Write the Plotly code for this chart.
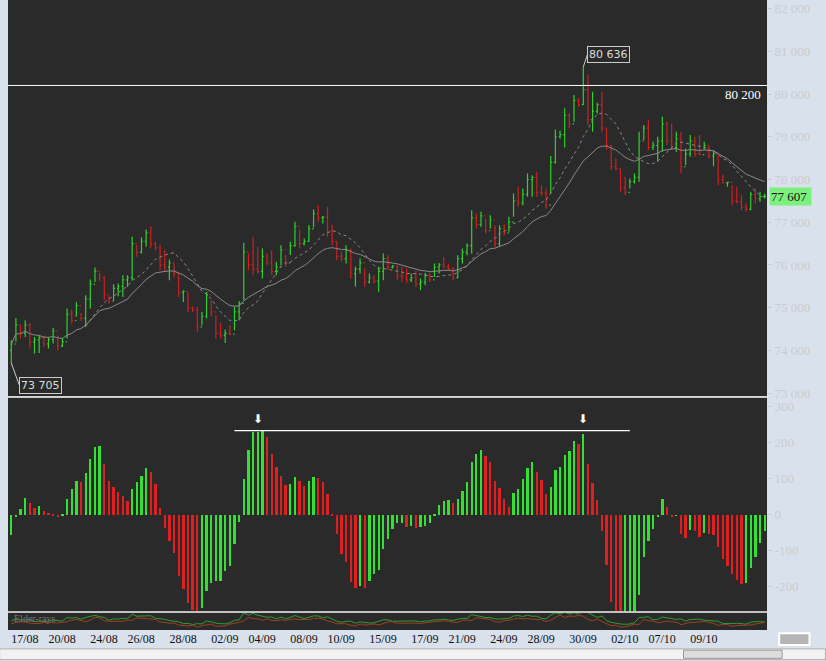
import plotly.graph_objects as go
import pandas as pd

# price bars (one bar per entry)
highs = [74237, 74760, 74590, 74706, 74643, 74315, 74355, 74340, 74315, 74526, 74347, 74290, 74980, 74956, 75135, 74878,
         75290, 75660, 75940, 75815, 75737, 75270, 75550, 75565, 75760, 75760, 76660, 76465, 76643, 76830, 76908, 76540,
         76465, 76345, 76130, 76033, 75800, 75410, 75347, 75033, 75020, 74900, 75370, 75175, 74823, 74643, 74490, 74590,
         75020, 75150, 76518, 76268, 76658, 76424, 76385, 76268, 76346, 76073, 76463, 76230, 76542, 77010, 76815, 76620,
         76932, 77300, 77400, 77143, 77362, 76932, 76542, 76307, 76463, 76385, 75955, 76151, 75917, 75800, 75760, 75955,
         76268, 76229, 75995, 75995, 75954, 75915, 75798, 75860, 75680, 75813, 75798, 76032, 76048, 76188, 76032, 75954,
         76227, 76383, 76500, 77281, 77203, 77242, 77086, 77164, 76930, 76930, 76953, 77125, 77672, 77828, 77789, 78141,
         78101, 78180, 77867, 77789, 78547, 79172, 79140, 79664, 79546, 79976, 79898, 80636, 80445, 80054, 79796, 80054,
         79195, 78805, 78492, 78258, 78062, 78023, 78141, 79117, 79273, 79390, 78883, 78999, 79468, 79351, 79312, 79117,
         79117, 78726, 79039, 79000, 79039, 78883, 78781, 78687, 78570, 78102, 77945, 77867, 77828, 77633, 77437, 77711,
         77789, 77711, 77672]
lows = [73705, 74200, 74280, 74315, 74043, 73925, 73940, 74080, 74043, 74160, 74000, 74080, 74280, 74630, 74785, 74690,
        74550, 74980, 75600, 75630, 75175, 75100, 75160, 75270, 75250, 75490, 75640, 76190, 76270, 76425, 76385, 76345,
        75880, 75840, 75640, 75705, 75250, 75135, 74900, 74900, 74430, 74590, 74745, 74785, 74280, 74280, 74175, 74355,
        74470, 74706, 75175, 75877, 75760, 75800, 75682, 75995, 75760, 75760, 75995, 75955, 76230, 76424, 76385, 76463,
        76542, 76877, 77010, 76971, 76658, 76463, 76112, 76073, 76034, 75682, 75487, 75800, 75487, 75565, 75565, 75370,
        75643, 75877, 75917, 75641, 75602, 75579, 75602, 75485, 75407, 75524, 75602, 75720, 75798, 75915, 75876, 75641,
        75680, 76032, 76227, 76266, 76852, 76891, 76735, 76852, 76422, 76422, 76696, 76774, 77125, 77360, 77398, 77594,
        77594, 77594, 77633, 77320, 77672, 78375, 78961, 78750, 79195, 79351, 79703, 79742, 79273, 79117, 79546, 79117,
        78687, 78219, 78219, 77711, 77633, 77789, 77906, 77945, 78922, 78687, 78687, 78414, 78648, 78805, 78687, 78648,
        78141, 78336, 78531, 78531, 78570, 78687, 78492, 78312, 77867, 77906, 77828, 77398, 77437, 77281, 77242, 77281,
        77437, 77476, 77555]
closes = [74150, 74600, 74400, 74600, 74200, 74250, 74300, 74150, 74250, 74450, 74100, 74200, 74850, 74700, 75050, 74750,
          75200, 75550, 75850, 75700, 75300, 75150, 75450, 75500, 75650, 75700, 76500, 76300, 76550, 76750, 76500, 76400,
          76000, 75950, 76050, 75800, 75350, 75380, 75000, 74950, 74550, 74800, 75300, 74900, 74400, 74350, 74400, 74380,
          74900, 75100, 76300, 76000, 75900, 75850, 76200, 76050, 75850, 75950, 76350, 76050, 76450, 76900, 76500, 76550,
          76850, 77200, 77100, 77120, 76800, 76550, 76200, 76150, 76350, 75800, 75900, 76050, 75600, 75700, 75620, 75850,
          76150, 75950, 75980, 75750, 75700, 75650, 75700, 75550, 75600, 75750, 75650, 75950, 76000, 75950, 75900, 75700,
          76150, 76300, 76450, 77100, 76950, 77150, 76800, 77050, 76500, 76850, 76750, 77000, 77500, 77450, 77650, 78000,
          78050, 77700, 77680, 77400, 78400, 79000, 79050, 79500, 79300, 79850, 79750, 80100, 79400, 79600, 79750, 79200,
          78800, 78300, 78250, 77800, 77700, 77950, 78050, 78900, 79200, 78750, 78800, 78900, 79300, 78900, 78750, 78950,
          78300, 78600, 78900, 78600, 78580, 78800, 78550, 78600, 78000, 77920, 77930, 77500, 77480, 77350, 77300, 77650,
          77550, 77600, 77607]

# oscillator histogram
hist = [-54, -3, 16, 48, 34, 19, 25, 11, 6, 4, -4, 1, 44, 74, 94, 92, 117, 157, 189, 192, 143, 94, 78, 65, 53, 39,
        74, 93, 108, 130, 119, 87, 20, -35, -72, -105, -169, -206, -244, -262, -276, -257, -211, -188, -183, -183,
        -156, -142, -81, -19, 101, 182, 231, 231, 233, 217, 170, 133, 108, 85, 87, 106, 94, 81, 94, 106, 102, 92, 59,
        4, -52, -107, -130, -185, -202, -197, -202, -183, -163, -151, -95, -65, -38, -21, -21, -33, -31, -35, -33, -31,
        -21, 2, 28, 39, 43, 33, 44, 67, 92, 147, 169, 182, 164, 147, 94, 76, 45, 24, 61, 73, 100, 131, 147, 119, 98,
        59, 78, 124, 133, 167, 178, 206, 198, 226, 141, 89, 43, -44, -139, -241, -290, -300, -300, -295, -290, -222,
        -117, -72, -38, -6, 46, 22, -6, -1, -52, -63, -40, -44, -60, -50, -52, -56, -88, -121, -142, -163, -179, -191,
        -188, -146, -116, -77, -43]

date_labels = ["17/08", "20/08", "24/08", "26/08", "28/08", "02/09", "04/09", "08/09", "10/09",
               "15/09", "17/09", "21/09", "24/09", "28/09", "30/09", "02/10", "07/10", "09/10"]
date_bars = [0, 8, 17, 25, 34, 43, 51, 60, 68, 77, 86, 94, 103, 111, 120, 129, 137, 146]
price_ticks = [73000, 74000, 75000, 76000, 77000, 78000, 79000, 80000, 81000, 82000]
hist_ticks = [-200, -100, 0, 100, 200, 300]

n = len(closes)
idx = list(range(n))
opens = [74000] + closes[:-1]
s = pd.Series(closes)
ma_slow = s.ewm(span=20).mean()
ma_fast = s.rolling(10).mean()
ma_fast[:16] = None
ema13 = s.ewm(span=13).mean()
bull = pd.Series(highs) - ema13
bear = pd.Series(lows) - ema13
hist_cols = ["#e02020" if i > 0 and hist[i] < hist[i - 1] else "#33e033" for i in idx]

BG = "#2a2a2a"
FONT = "Liberation Serif"

fig = go.Figure()
fig.add_trace(go.Ohlc(x=idx, open=opens, high=highs, low=lows, close=closes, xaxis="x", yaxis="y",
                      increasing_line_color="#2fd02f", decreasing_line_color="#cc2020",
                      line_width=1.2, tickwidth=0.3, hoverinfo="skip"))
fig.add_trace(go.Scatter(x=idx, y=ma_slow, mode="lines", line=dict(color="#8a8a8a", width=1),
                         xaxis="x", yaxis="y", hoverinfo="skip"))
fig.add_trace(go.Scatter(x=idx, y=ma_fast, mode="lines", line=dict(color="#8a8a8a", width=1, dash="3px,3px"),
                         xaxis="x", yaxis="y", hoverinfo="skip"))
fig.add_trace(go.Bar(x=idx, y=hist, marker_color=hist_cols, marker_line_width=0, width=0.5,
                     xaxis="x2", yaxis="y2", hoverinfo="skip"))
fig.add_trace(go.Scatter(x=idx, y=bull, mode="lines", line=dict(color="#2e9e2e", width=1),
                         xaxis="x3", yaxis="y3", hoverinfo="skip"))
fig.add_trace(go.Scatter(x=idx, y=bear, mode="lines", line=dict(color="#a04020", width=1),
                         xaxis="x3", yaxis="y3", hoverinfo="skip"))

xr = [-0.7, 162.5]
xbase = dict(range=xr, showgrid=False, zeroline=False, fixedrange=True, rangeslider_visible=False)
ybase = dict(showgrid=False, zeroline=False, side="right", ticks="outside", ticklen=4, tickcolor="#cccccc",
             tickfont=dict(family=FONT, size=13, color="#cccccc"), showline=True, linecolor="#dddddd")

fig.update_layout(
    width=826, height=661, margin=dict(l=8, r=59, t=0, b=31),
    paper_bgcolor="#d9e1ec", plot_bgcolor=BG, showlegend=False, bargap=0,
    xaxis=dict(xbase, anchor="y", showticklabels=False),
    xaxis2=dict(xbase, anchor="y2", showticklabels=False),
    xaxis3=dict(xbase, anchor="y3", tickvals=date_bars, ticktext=date_labels, ticks="",
                ticklabelposition="outside right", tickangle=0,
                tickfont=dict(family=FONT, size=12, color="#111111")),
    yaxis=dict(ybase, domain=[0.371, 1], range=[72927, 82200], tickvals=price_ticks,
               ticktext=[f"{v:,}".replace(",", " ") for v in price_ticks]),
    yaxis2=dict(ybase, domain=[0.029, 0.369], range=[-269, 325], tickvals=hist_ticks,
                ticktext=[str(v) for v in hist_ticks]),
    yaxis3=dict(ybase, domain=[0, 0.028], range=[-1500, 1500], showticklabels=False, ticks=""),
)

# thin separators between panels
for yy in [0.370, 0.0285]:
    fig.add_shape(type="line", xref="paper", yref="paper", x0=0, x1=1, y0=yy, y1=yy,
                  line=dict(color="#e0e0e0", width=1.5), layer="above")

# resistance line at 80 200 and peak line on the histogram
fig.add_shape(type="line", xref="paper", yref="y", x0=0, x1=1, y0=80200, y1=80200,
              line=dict(color="#ffffff", width=1))
fig.add_annotation(xref="paper", yref="y", x=0.995, y=80200, yanchor="top", xanchor="right",
                   text="80 200", showarrow=False, font=dict(family=FONT, size=13, color="#ffffff"))
fig.add_shape(type="line", xref="x2", yref="y2", x0=48, x1=133, y0=233, y1=233,
              line=dict(color="#ffffff", width=1.2))
for b in [53, 123]:
    fig.add_annotation(xref="x2", yref="y2", x=b, y=268, text="⬇", showarrow=False,
                       font=dict(size=12, color="#ffffff"))

# extreme labels
fig.add_annotation(xref="x", yref="y", x=0, y=min(lows), ax=8, ay=22, text="73 705", showarrow=True,
                   arrowhead=0, arrowcolor="#cccccc", arrowwidth=1, xanchor="left",
                   font=dict(family="DejaVu Sans", size=11, color="#dddddd"),
                   bordercolor="#cccccc", borderwidth=1, borderpad=1, bgcolor=BG)
fig.add_annotation(xref="x", yref="y", x=123, y=max(highs), ax=4, ay=-12, text="80 636", showarrow=True,
                   arrowhead=0, arrowcolor="#cccccc", arrowwidth=1, xanchor="left",
                   font=dict(family="DejaVu Sans", size=11, color="#dddddd"),
                   bordercolor="#cccccc", borderwidth=1, borderpad=1, bgcolor=BG)
fig.add_annotation(xref="paper", yref="y", x=1.003, y=closes[-1], xanchor="left", showarrow=False,
                   text="77 607 ", bgcolor="#7cf07c", font=dict(family=FONT, size=13, color="#111111"))
fig.add_annotation(xref="paper", yref="y3", x=0.005, y=-900, xanchor="left", yanchor="bottom", showarrow=False,
                   text="Elder-rays", font=dict(family=FONT, size=10, color="#777777"))

# window chrome: scrollbar strip and right button
fig.add_shape(type="rect", xref="paper", yref="paper", x0=-0.011, x1=1.077, y0=-0.03, y1=-0.047,
              fillcolor="#f2f2f2", line=dict(color="#b0b0b0", width=1))
fig.add_shape(type="rect", xref="paper", yref="paper", x0=0.89, x1=1.02, y0=-0.032, y1=-0.045,
              fillcolor="#dcdcdc", line=dict(color="#999999", width=1))
fig.add_shape(type="rect", xref="paper", yref="paper", x0=1.016, x1=1.056, y0=-0.005, y1=-0.024,
              fillcolor="#b5b5b5", line=dict(color="#ffffff", width=2))

fig.write_html("out.html", config={"displayModeBar": False},
               post_script="document.body.style.margin='0';")
